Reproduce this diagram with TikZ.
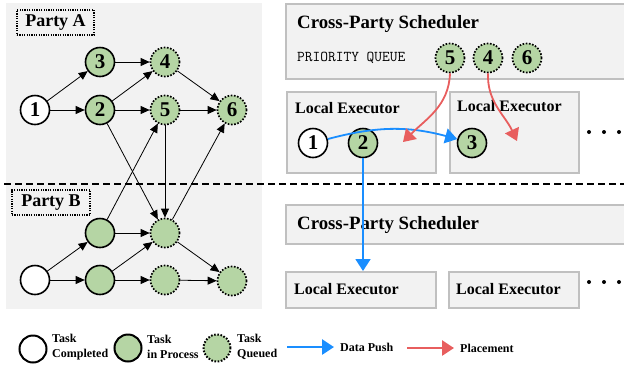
\documentclass[tikz,border=0pt]{standalone}
\usepackage{fontspec}
\setmainfont{Liberation Serif}
\usepackage{tikz}
\usetikzlibrary{arrows.meta}
\definecolor{panelgray}{RGB}{242,242,242}
\definecolor{boxgray}{RGB}{192,192,192}
\definecolor{taskgreen}{RGB}{181,213,164}
\definecolor{pushblue}{RGB}{26,142,255}
\definecolor{placered}{RGB}{232,94,94}
\tikzset{
	task/.style={circle, draw, line width=1.6pt, minimum size=29pt, inner sep=0pt, font=\bfseries\fontsize{21}{21}\selectfont},
	taskdone/.style={task, fill=white},
	taskproc/.style={task, fill=taskgreen},
	taskqueued/.style={task, fill=taskgreen, line width=1.7pt, dash pattern=on 1.6pt off 1.6pt},
	dep/.style={-{Triangle[length=9pt,width=8pt]}, line width=0.8pt},
	pusharrow/.style={-{Triangle[length=12pt,width=15pt]}, line width=1.8pt, pushblue},
	placearrow/.style={-{Triangle[length=12pt,width=15pt]}, line width=1.8pt, placered},
	partybox/.style={draw, line width=1.1pt, dash pattern=on 1.2pt off 1.2pt, minimum height=25pt, inner sep=0pt, font=\bfseries\fontsize{18}{18}\selectfont},
	unitbox/.style={draw=boxgray, fill=panelgray, line width=1.5pt, anchor=north west, inner sep=0pt},
	unitname/.style={anchor=base west, inner sep=0pt, font=\bfseries\fontsize{16}{16}\selectfont},
	schedname/.style={anchor=base west, inner sep=0pt, font=\bfseries\fontsize{18.8}{18.8}\selectfont},
	legendtext/.style={anchor=west, align=left, inner sep=0pt, font=\bfseries\fontsize{12}{15}\selectfont}
}

\begin{document}
\begin{tikzpicture}[x=1pt, y=-1pt]
			\useasboundingbox (0,0) rectangle (624,368);
			\fill[panelgray] (6,3) rectangle (262,309);

			\node[partybox, minimum width=77pt] (pa) at (55.5,22.5) {Party A};
			\node[partybox, minimum width=78pt] (pb) at (51,202.5) {Party B};

			\node[taskdone] (a1) at (35,110) {1};
			\node[taskproc] (a2) at (100,110) {2};
			\node[taskproc] (a3) at (100,62) {3};
			\node[taskqueued] (a4) at (165,62) {4};
			\node[taskqueued] (a5) at (165,110) {5};
			\node[taskqueued] (a6) at (232,110) {6};

			\node[taskdone] (b1) at (35,280) {};
			\node[taskproc] (b2) at (100,233) {};
			\node[taskproc] (b3) at (100,280) {};
			\node[taskqueued] (b4) at (165,233) {};
			\node[taskqueued] (b5) at (165,280) {};
			\node[taskqueued] (b6) at (232,281) {};

			\draw[dep] (a1) to (a3);
			\draw[dep] (a1) to (a2);
			\draw[dep] (a3) to (a4);
			\draw[dep] (a2) to (a4);
			\draw[dep] (a2) to (a5);
			\draw[dep] (a4) to (a6);
			\draw[dep] (a5) to (a6);
			\draw[dep] (a2) to (b4);
			\draw[dep] (b2) to (a5);
			\draw[dep] (a5) to (b4);
			\draw[dep] (b4) to (a6);
			\draw[dep] (b1) to (b2);
			\draw[dep] (b1) to (b3);
			\draw[dep] (b2) to (b4);
			\draw[dep] (b3) to (b4);
			\draw[dep] (b3) to (b5);
			\draw[dep] (b4) to (b6);
			\draw[dep] (b5) to (b6);

			\draw[line width=1.4pt, dash pattern=on 7pt off 4pt] (4,184) -- (624,184);

			\node[unitbox, minimum width=345pt, minimum height=75pt] (sched1) at (285,3) {};
			\node[schedname] (sched1name) at (297,28) {Cross-Party Scheduler};
			\node[anchor=west, inner sep=0pt, font=\ttfamily\fontsize{15}{15}\selectfont] (prio) at (297,58) {PRIORITY QUEUE};
			\node[taskqueued] (q5) at (450,58) {5};
			\node[taskqueued] (q4) at (488,58) {4};
			\node[taskqueued] (q6) at (527,58) {6};

			\node[unitbox, minimum width=149pt, minimum height=81pt] (exec1) at (286,91) {};
			\node[unitname] (exec1name) at (295,113) {Local Executor};
			\node[unitbox, minimum width=129pt, minimum height=81pt] (exec2) at (449,91) {};
			\node[unitname] (exec2name) at (457,111) {Local Executor};
			\fill (589,132) circle (2pt) (604,132) circle (2pt) (619,132) circle (2pt);

			\node[taskdone] (l1) at (313,143) {1};
			\node[taskproc] (l2) at (363,143) {2};
			\node[taskproc] (l3) at (472,143) {3};

			\node[unitbox, minimum width=345pt, minimum height=39pt] (sched2) at (285,204) {};
			\node[schedname] (sched2name) at (297,229) {Cross-Party Scheduler};
			\node[unitbox, minimum width=150pt, minimum height=36pt] (exec3) at (285,271) {};
			\node[unitname] (exec3name) at (294,294) {Local Executor};
			\node[unitbox, minimum width=130pt, minimum height=36pt] (exec4) at (448,271) {};
			\node[unitname] (exec4name) at (456,294) {Local Executor};
			\fill (589,282) circle (2pt) (604,282) circle (2pt) (619,282) circle (2pt);

			\coordinate (slot1) at (403,142);
			\coordinate (slot2) at (517,141);
			\draw[pusharrow] (l1) to[bend left=15] (l3);
			\draw[pusharrow] (l2.south) to (l2.south |- exec3.north);
			\draw[placearrow] (q5.south) to[out=-92, in=45] (slot1);
			\draw[placearrow] (q4.south) to[out=-92, in=115] (slot2);

			\node[taskdone, minimum size=27pt, line width=2pt] (lgdone) at (33,349) {};
			\node[legendtext] (lgdonetext) at (52,347) {Task\\Completed};
			\node[taskproc, minimum size=27pt, line width=2pt] (lgproc) at (128,348) {};
			\node[legendtext] (lgproctext) at (147,347) {Task\\in Process};
			\node[taskqueued, minimum size=27pt, line width=2pt] (lgqueued) at (217,348) {};
			\node[legendtext] (lgqueuedtext) at (237,347) {Task\\Queued};
			\coordinate (lgpushfrom) at (287,347);
			\coordinate (lgpushto) at (334,347);
			\draw[pusharrow, line width=2.8pt] (lgpushfrom) to (lgpushto);
			\node[legendtext] (lgpushtext) at (340,347) {Data Push};
			\coordinate (lgplacefrom) at (407,348);
			\coordinate (lgplaceto) at (454,348);
			\draw[placearrow, line width=2.8pt] (lgplacefrom) to (lgplaceto);
			\node[legendtext] (lgplacetext) at (460,348) {Placement};
		\end{tikzpicture}
\end{document}
